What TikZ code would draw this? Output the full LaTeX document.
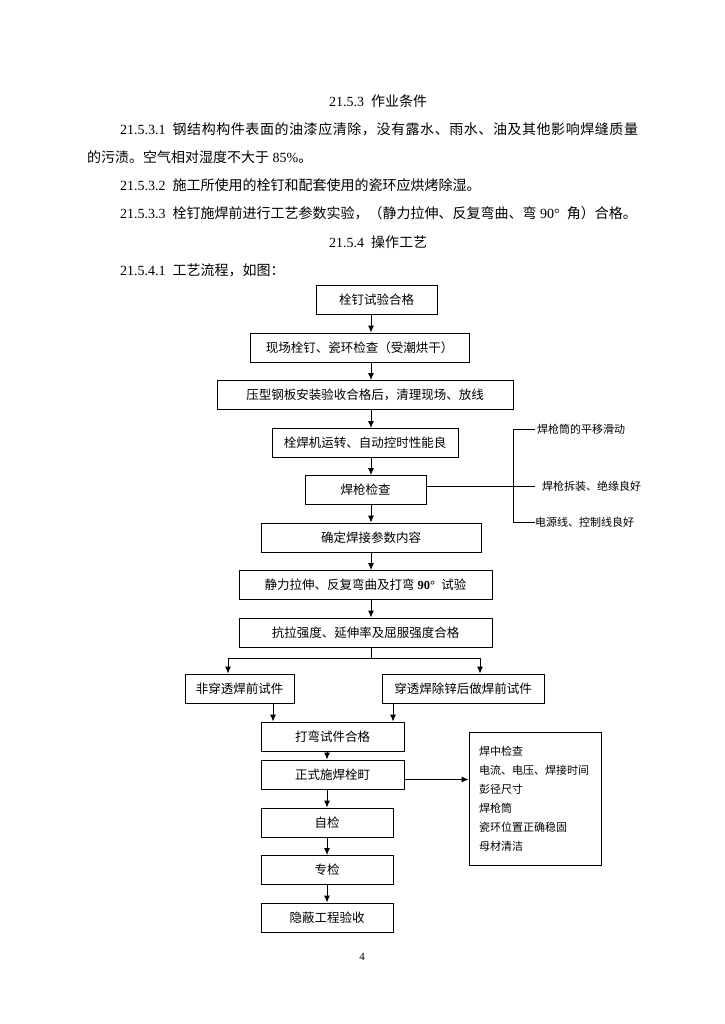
\documentclass[tikz,border=0pt]{standalone}
\usepackage{fontspec}
\setmainfont{Liberation Serif}
\newfontfamily\cjk{Noto Sans CJK SC}
\newfontfamily\cjkwide{Noto Sans CJK SC}[LetterSpace=4]
\usetikzlibrary{arrows.meta}
\tikzset{
  stepbox/.style={draw,line width=0.9pt,minimum height=29pt,inner sep=0pt,font=\cjk\fontsize{12.5}{14}\selectfont},
  flow/.style={line width=0.9pt,-{Latex[length=7pt,width=6pt]}},
  wire/.style={line width=0.9pt},
  bodytext/.style={anchor=west,inner sep=0pt,font=\fontsize{14}{16}\selectfont},
  note/.style={anchor=west,inner sep=0pt,font=\cjk\fontsize{11}{13}\selectfont}
}
\newcommand{\gap}{\hspace{0.5em}}

\begin{document}
\begin{tikzpicture}[x=1pt,y=-1pt]
\useasboundingbox[fill=white] (0,0) rectangle (724,1024);

% Text above the chart
\node[bodytext,anchor=center] (h1) at (378,101) {21.5.3\gap{\cjk 作业条件}};
\node[bodytext] (t1) at (120,129) {21.5.3.1\gap{\cjkwide 钢结构构件表面的油漆应清除，没有露水、雨水、油及其他影响焊缝质量}};
\node[bodytext] (t2) at (87,157) {{\cjk 的污渍。空气相对湿度不大于} 85\%{\cjk 。}};
\node[bodytext] (t3) at (120,185) {21.5.3.2\gap{\cjk 施工所使用的栓钉和配套使用的瓷环应烘烤除湿。}};
\node[bodytext] (t4) at (120,213) {21.5.3.3\gap{\cjk 栓钉施焊前进行工艺参数实验，（静力拉伸、反复弯曲、弯} 90°\gap{\cjk 角）合格。}};
\node[bodytext,anchor=center] (h2) at (378,242) {21.5.4\gap{\cjk 操作工艺}};
\node[bodytext] (t5) at (120,270) {21.5.4.1\gap{\cjk 工艺流程，如图：}};

% Main steps
\node[stepbox,minimum width=121pt] (b1) at (376.5,299.5) {栓钉试验合格};
\node[stepbox,minimum width=219pt] (b2) at (359.5,347.5) {现场栓钉、瓷环检查（受潮烘干）};
\node[stepbox,minimum width=296pt] (b3) at (365,395) {压型钢板安装验收合格后，清理现场、放线};
\node[stepbox,minimum width=186pt] (b4) at (365,443) {栓焊机运转、自动控时性能良};
\node[stepbox,minimum width=121pt] (b5) at (365.5,490) {焊枪检查};
\node[stepbox,minimum width=220pt] (b6) at (371,537.5) {确定焊接参数内容};
\node[stepbox,minimum width=253pt] (b7) at (365.5,585) {静力拉伸、反复弯曲及打弯 {\rmfamily\bfseries 90°}\gap 试验};
\node[stepbox,minimum width=253pt] (b8) at (365.5,632.5) {抗拉强度、延伸率及屈服强度合格};
\node[stepbox,minimum width=109pt] (b9) at (239.5,688.5) {非穿透焊前试件};
\node[stepbox,minimum width=162pt] (b10) at (463,688.5) {穿透焊除锌后做焊前试件};
\node[stepbox,minimum width=143pt] (b11) at (332.5,736.5) {打弯试件合格};
\node[stepbox,minimum width=143pt] (b12) at (332.5,774.5) {正式施焊栓町};
\node[stepbox,minimum width=132pt] (b13) at (327,822.5) {自检};
\node[stepbox,minimum width=132pt] (b14) at (327,870) {专检};
\node[stepbox,minimum width=132pt] (b15) at (327,917.5) {隐蔽工程验收};

% Upper spine
\coordinate (sp) at (371,0);
\foreach \a/\b in {b1/b2,b2/b3,b3/b4,b4/b5,b5/b6,b6/b7,b7/b8}
  \draw[flow] (\a.south -| sp) -- (\b.north -| sp);

% Fork into two test pieces
\coordinate (fk) at (371,658);
\coordinate (fl) at (228,658);
\coordinate (fr) at (480,658);
\draw[wire] (b8.south -| sp) -- (fk);
\draw[wire] (fl) -- (fr);
\draw[flow] (fl) -- (fl |- b9.north);
\draw[flow] (fr) -- (fr |- b10.north);

% Merge
\coordinate (jl) at (273,0);
\coordinate (jr) at (393,0);
\draw[flow] (b9.south -| jl) -- (b11.north -| jl);
\draw[flow] (b10.south -| jr) -- (b11.north -| jr);

% Lower spine
\coordinate (sq) at (327,0);
\foreach \a/\b in {b11/b12,b12/b13,b13/b14,b14/b15}
  \draw[flow] (\a.south -| sq) -- (\b.north -| sq);

% Checks during welding
\node[draw,line width=0.9pt,minimum width=132pt,minimum height=133pt,text width=112pt,inner xsep=10pt,align=left,font=\cjk\fontsize{11}{19}\selectfont] (rb) at (535,798.5) {焊中检查\\电流、电压、焊接时间\\彭径尺寸\\焊枪筒\\瓷环位置正确稳固\\母材清洁};
\draw[flow] ([yshift=-5pt]b12.east) -- ([yshift=-5pt]b12.east -| rb.west);

% Welding gun checks
\node[note] (la1) at (537,429) {焊枪筒的平移滑动};
\node[note] (la2) at (542,486) {焊枪拆装、绝缘良好};
\node[note] (la3) at (535,522) {电源线、控制线良好};
\coordinate (bx) at (513,0);
\draw[wire] ([xshift=-2pt]la1.west) -- (la1.west -| bx) -- (la3.west -| bx) -- (la3.west);
\draw[wire] ([yshift=4pt]b5.east) -- ([xshift=-7pt]la2.west);

% Page number
\node[font=\fontsize{11}{13}\selectfont] (pg) at (362,957) {4};
\end{tikzpicture}
\end{document}
